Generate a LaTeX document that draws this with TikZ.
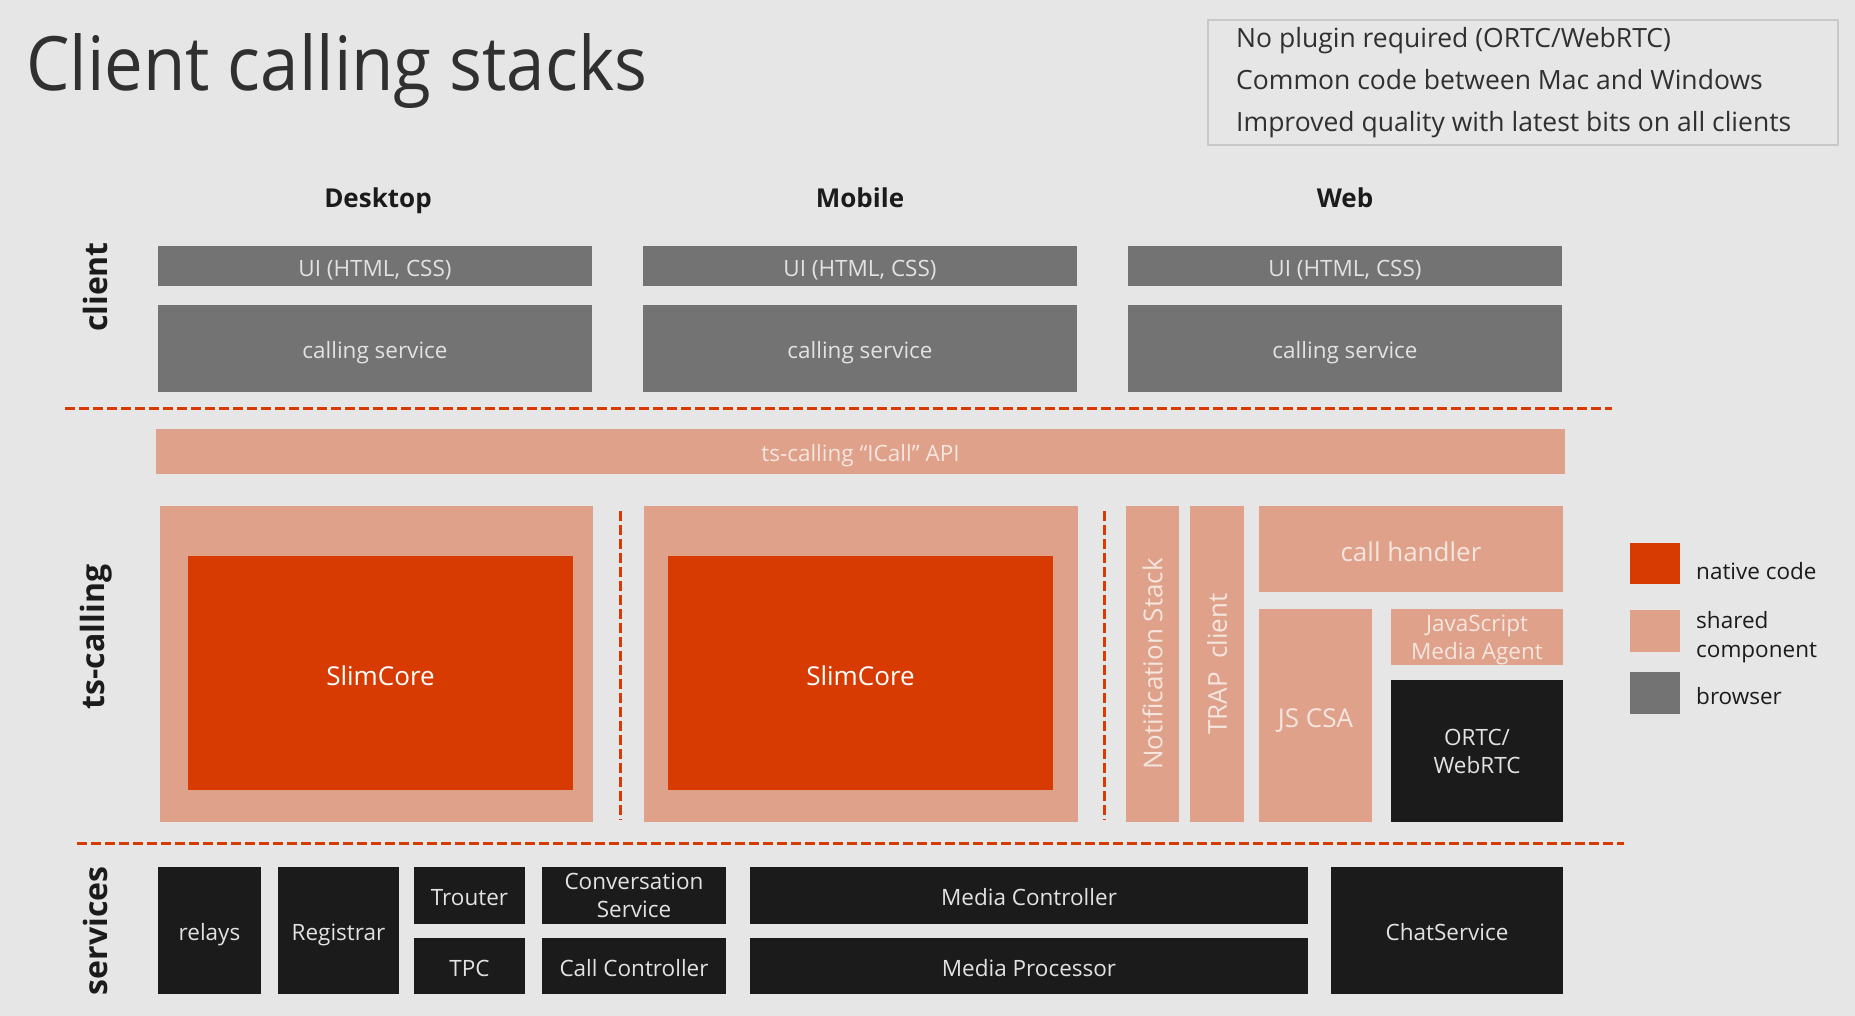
\documentclass[tikz,border=0pt]{standalone}
\usepackage{fontspec}
\setmainfont{Open Sans}
\newfontfamily\titlefont[FakeStretch=0.92]{Open Sans}
\usetikzlibrary{positioning}

\definecolor{bgc}{HTML}{E6E6E6}
\definecolor{browserc}{HTML}{737373}
\definecolor{sharedc}{HTML}{E0A18A}
\definecolor{nativec}{HTML}{D83B01}
\definecolor{svcc}{HTML}{1B1B1B}
\definecolor{darktxt}{HTML}{303030}
\definecolor{lighttxt}{HTML}{E2E2E2}
\definecolor{sharedtxt}{HTML}{F4E6DF}
\definecolor{noteframe}{HTML}{C8C8C8}

\tikzset{
  blk/.style={inner sep=0pt, outer sep=0pt, anchor=north west, align=center,
    text height=20.6pt, text depth=0pt, font=\fontsize{22.5}{28}\selectfont},
  twolines/.style={text height={}, text depth=0pt},
  browserblk/.style={blk, fill=browserc, text=lighttxt},
  sharedblk/.style={blk, fill=sharedc, text=sharedtxt},
  nativeblk/.style={blk, fill=nativec, text=white},
  svcblk/.style={blk, fill=svcc, text=lighttxt},
  bigtxt/.style={text height=24.5pt, font=\fontsize{26}{30}\selectfont},
  sidelabel/.style={rotate=90, text=svcc, font=\fontsize{32}{36}\selectfont\bfseries},
  colhead/.style={anchor=base, text=svcc, font=\fontsize{26}{30}\selectfont\bfseries},
  legtxt/.style={anchor=west, align=left, text=svcc, inner sep=0pt,
    font=\fontsize{22.5}{29}\selectfont},
  notetxt/.style={anchor=base west, inner sep=0pt, text=darktxt,
    font=\fontsize{26.5}{30}\selectfont},
  sepline/.style={draw=nativec, line width=3pt, dash pattern=on 10pt off 4pt},
}

\begin{document}
\begin{tikzpicture}[x=1pt, y=-1pt]

    \fill[bgc] (0,0) rectangle (1855,1016);
    \useasboundingbox (0,0) rectangle (1855,1016);

    %%% Title and notes %%%
    \node[anchor=base west, inner sep=0pt, text=darktxt, font=\titlefont\fontsize{75}{80}\selectfont] (title) at (26,91) {Client calling stacks};
    \node[draw=noteframe, line width=2pt, anchor=north west, minimum width=630, minimum height=125] (notes) at (1207,19) {};
    \node[notetxt] (note1) at (1236,48) {No plugin required (ORTC/WebRTC)};
    \node[notetxt] (note2) at (1236,90) {Common code between Mac and Windows};
    \node[notetxt] (note3) at (1236,132) {Improved quality with latest bits on all clients};

    %%% Column heads and rows %%%
    \node[colhead] (hdesk) at (378,208) {Desktop};
    \node[colhead] (hmob) at (860,208) {Mobile};
    \node[colhead] (hweb) at (1345,208) {Web};
    \node[sidelabel] (lclient) at (95,287) {client};
    \node[sidelabel] (ltscall) at (96,637) {ts-calling};
    \node[sidelabel] (lsvc) at (95,931) {services};

    %%% client %%%
    \node[browserblk, minimum width=434, minimum height=40] (uidesk) at (158,246) {UI (HTML, CSS)};
    \node[browserblk, minimum width=434, minimum height=87] (csdesk) at (158,305) {calling service};
    \node[browserblk, minimum width=434, minimum height=40] (uimob) at (643,246) {UI (HTML, CSS)};
    \node[browserblk, minimum width=434, minimum height=87] (csmob) at (643,305) {calling service};
    \node[browserblk, minimum width=434, minimum height=40] (uiweb) at (1128,246) {UI (HTML, CSS)};
    \node[browserblk, minimum width=434, minimum height=87] (csweb) at (1128,305) {calling service};

    \coordinate (S1a) at (65,408);    \coordinate (S1b) at (1612,408);
    \draw[sepline] (S1a) -- (S1b);

    %%% ts-calling %%%
    \node[sharedblk, minimum width=1409, minimum height=45] (icall) at (156,429) {ts-calling “ICall" API};

    \node[sharedblk, minimum width=433, minimum height=316] (shdesk) at (160,506) {};
    \node[nativeblk, bigtxt, minimum width=385, minimum height=234] (slimdesk) at (188,556) {SlimCore};
    \node[sharedblk, minimum width=434, minimum height=316] (shmob) at (644,506) {};
    \node[nativeblk, bigtxt, minimum width=385, minimum height=234] (slimmob) at (668,556) {SlimCore};

    \coordinate (V1a) at (620,511);   \coordinate (V1b) at (620,820);
    \coordinate (V2a) at (1104,511);  \coordinate (V2b) at (1104,820);
    \draw[sepline] (V1a) -- (V1b);
    \draw[sepline] (V2a) -- (V2b);

    \node[sharedblk, minimum width=53, minimum height=316] (notif) at (1126,506) {};
    \node[rotate=90, bigtxt, text height={}, text=sharedtxt] at (notif.center) {Notification Stack};
    \node[sharedblk, minimum width=54, minimum height=316] (trap) at (1190,506) {};
    \node[rotate=90, bigtxt, text height={}, text=sharedtxt] at (trap.center) {TRAP\ \ client};
    \node[sharedblk, bigtxt, minimum width=304, minimum height=86] (handler) at (1259,506) {call handler};
    \node[sharedblk, bigtxt, minimum width=113, minimum height=213] (jscsa) at (1259,609) {JS CSA};
    \node[sharedblk, twolines, minimum width=172, minimum height=56] (jsma) at (1391,609) {JavaScript\\Media Agent};
    \node[svcblk, twolines, minimum width=172, minimum height=142] (ortc) at (1391,680) {ORTC/\\WebRTC};

    %%% legend %%%
    \node[nativeblk, minimum width=50, minimum height=41] (knative) at (1630,543) {};
    \node[sharedblk, minimum width=50, minimum height=42] (kshared) at (1630,610) {};
    \node[browserblk, minimum width=50, minimum height=42] (kbrowser) at (1630,672) {};
    \node[legtxt] at (1696,571) {native code};
    \node[legtxt] at (1696,637) {shared\\component};
    \node[legtxt] at (1696,696) {browser};

    \coordinate (S2a) at (77,843);    \coordinate (S2b) at (1624,843);
    \draw[sepline] (S2a) -- (S2b);

    %%% services %%%
    \node[svcblk, minimum width=103, minimum height=127] (relays) at (158,867) {relays};
    \node[svcblk, minimum width=121, minimum height=127] (registrar) at (278,867) {Registrar};
    \node[svcblk, minimum width=111, minimum height=57] (trouter) at (414,867) {Trouter};
    \node[svcblk, minimum width=111, minimum height=56] (tpc) at (414,938) {TPC};
    \node[svcblk, twolines, minimum width=184, minimum height=57] (convsvc) at (542,867) {Conversation\\Service};
    \node[svcblk, minimum width=184, minimum height=56] (callctl) at (542,938) {Call Controller};
    \node[svcblk, minimum width=558, minimum height=57] (mediactl) at (750,867) {Media Controller};
    \node[svcblk, minimum width=558, minimum height=56] (mediaproc) at (750,938) {Media Processor};
    \node[svcblk, minimum width=232, minimum height=127] (chat) at (1331,867) {ChatService};

\end{tikzpicture}
\end{document}
